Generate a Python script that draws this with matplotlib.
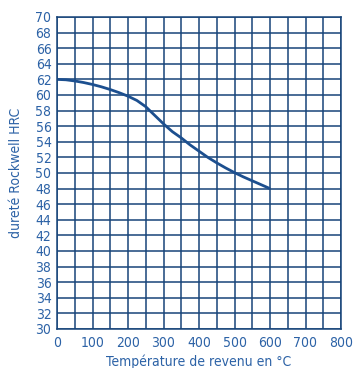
import matplotlib

matplotlib.use("Agg")
import matplotlib.pyplot as plt

# tempering temperature (°C) vs Rockwell hardness
temp = [0, 25, 50, 75, 100, 125, 150, 175, 200, 225, 250, 275, 300,
        325, 350, 375, 400, 425, 450, 475, 500, 525, 550, 575, 600]
hrc = [62.0, 61.95, 61.8, 61.6, 61.35, 61.05, 60.7, 60.3, 59.85, 59.3, 58.5, 57.4, 56.3,
       55.3, 54.5, 53.6, 52.8, 52.0, 51.3, 50.65, 50.05, 49.5, 49.0, 48.5, 48.0]

x_ticks = list(range(0, 801, 100))
y_ticks = list(range(30, 71, 2))

GRID = "#174479"
LINE = "#1c4f8f"
TEXT = "#2c62a6"

plt.rcParams["font.family"] = ["DejaVu Sans"]
plt.rcParams["font.stretch"] = "condensed"

fig = plt.figure(figsize=(3.54, 3.68), dpi=100)
ax = fig.add_axes([57 / 354, 1 - 329 / 368, 284 / 354, 312 / 368])

ax.plot(temp, hrc, color=LINE, lw=2.0, solid_capstyle="butt")

ax.set_xlim(0, 800)
ax.set_ylim(30, 70)
ax.set_xticks(x_ticks)
ax.set_xticks(range(0, 801, 50), minor=True)
ax.set_yticks(y_ticks)
ax.grid(True, which="both", color=GRID, lw=1.1)
ax.set_axisbelow(True)
for s in ax.spines.values():
    s.set_color(GRID)
    s.set_linewidth(1.1)

ax.tick_params(which="both", length=0, labelsize=10, labelcolor=TEXT)
ax.tick_params(axis="x", pad=5)
ax.tick_params(axis="y", pad=4)

ax.set_xlabel("Température de revenu en °C", fontsize=10, color=TEXT, labelpad=3)
ax.set_ylabel("dureté Rockwell HRC", fontsize=10, color=TEXT, labelpad=9)

fig.savefig("out.png", dpi=100, facecolor="white")
